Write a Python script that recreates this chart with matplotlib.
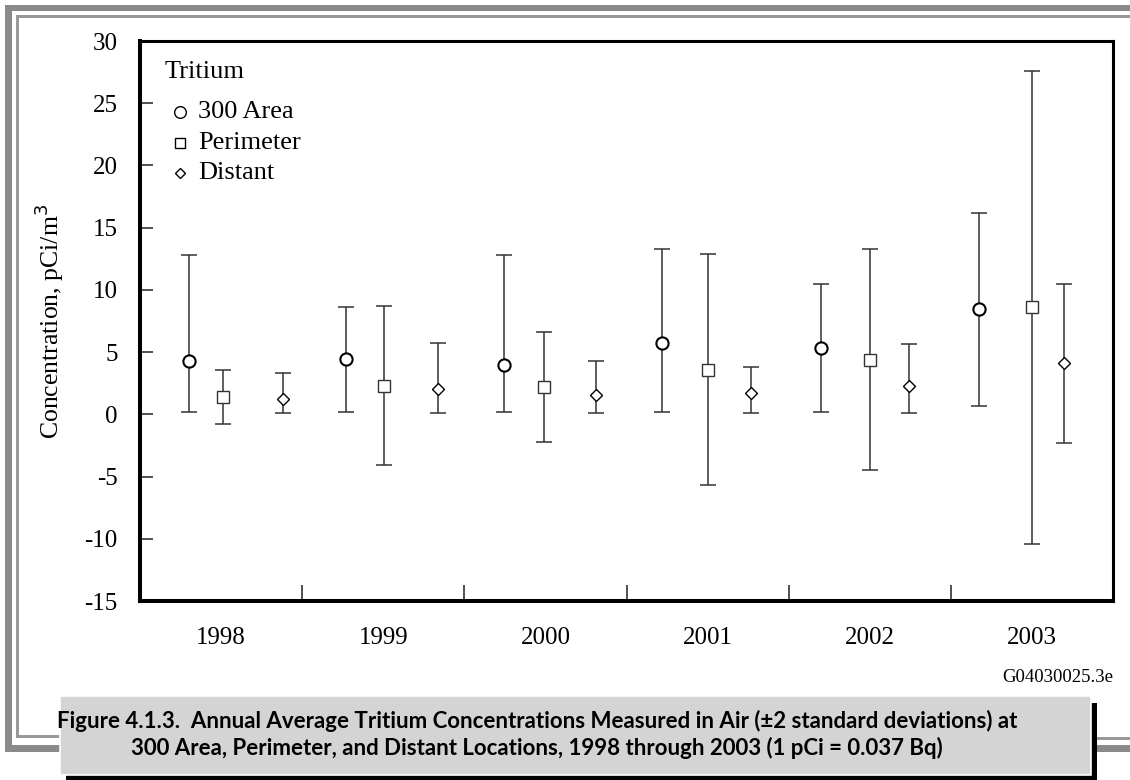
import numpy as np
import matplotlib
matplotlib.use("Agg")
import matplotlib.pyplot as plt
from matplotlib.patches import Rectangle

plt.rcParams['font.family'] = ['Liberation Serif', 'DejaVu Serif']
plt.rcParams['axes.unicode_minus'] = False

# data (pCi/m3)
years = ['1998', '1999', '2000', '2001', '2002', '2003']

area300_mean = [4.28, 4.41, 4.0, 5.7, 5.35, 8.43]
area300_low = [0.2, 0.2, 0.2, 0.18, 0.18, 0.66]
area300_high = [12.8, 8.64, 12.8, 13.28, 10.47, 16.2]

perim_mean = [1.41, 2.29, 2.2, 3.6, 4.38, 8.6]
perim_low = [-0.76, -4.08, -2.25, -5.66, -4.49, -10.43]
perim_high = [3.58, 8.72, 6.6, 12.88, 13.3, 27.6]

distant_mean = [1.25, 2.0, 1.52, 1.7, 2.29, 4.14]
distant_low = [0.12, 0.12, 0.1, 0.1, 0.1, -2.29]
distant_high = [3.34, 5.75, 4.28, 3.8, 5.67, 10.47]

legend_labels = ['300 Area', 'Perimeter', 'Distant']

# horizontal placement of each series inside its year slot
area300_off = [-0.20, -0.23, -0.255, -0.28, -0.30, -0.325]
perim_off = [0.01, 0.005, -0.01, 0.0, 0.0, 0.0]
distant_off = [0.38, 0.34, 0.31, 0.27, 0.24, 0.20]

W, H = 1130, 780
fig = plt.figure(figsize=(W / 100, H / 100), dpi=100)


def px(x0, y0, x1, y1):
    # pixel box (top-left origin) -> figure fraction rectangle
    return (x0 / W, 1 - y1 / H), (x1 - x0) / W, (y1 - y0) / H


ax = fig.add_axes([140 / W, 1 - 601 / H, 973 / W, 560 / H])

series = [
    (area300_mean, area300_low, area300_high, area300_off, 'o', 8.8, 1.5, 'black'),
    (perim_mean, perim_low, perim_high, perim_off, 's', 8.8, 1.0, '#333333'),
    (distant_mean, distant_low, distant_high, distant_off, 'D', 6.4, 1.0, 'black'),
]
pos = np.arange(len(years))
for mean, low, high, off, mk, ms, mew, ec in series:
    mean = np.array(mean)
    x = pos + np.array(off)
    yerr = [mean - np.array(low), np.array(high) - mean]
    ax.errorbar(x, mean, yerr=yerr, fmt='none', ecolor='#333333',
                elinewidth=1.1, capsize=6.1, capthick=1.1, zorder=2)
    ax.plot(x, mean, ls='none', marker=mk, ms=ms, mfc='white', mec=ec,
            mew=mew, zorder=3)

ax.set_xlim(-0.5, len(years) - 0.5)
ax.set_ylim(-15, 30)
ax.set_yticks(np.arange(-15, 31, 5))
ax.set_xticks(pos)
ax.set_xticklabels(years)
ax.set_xticks(pos[:-1] + 0.5, minor=True)
ax.tick_params(axis='x', which='major', length=0, pad=19, labelsize=18)
ax.tick_params(axis='x', which='minor', direction='in', length=11.5,
               width=1.1, color='#222222')
ax.tick_params(axis='y', direction='in', length=9.5, width=1.1,
               pad=16, labelsize=18, color='#222222')

for side in ['left', 'bottom']:
    ax.spines[side].set_linewidth(2.9)
for side in ['top', 'right']:
    ax.spines[side].set_linewidth(2.2)

ax.set_ylabel('Concentration, pCi/m$^3$', fontsize=18.5, labelpad=13)

# legend drawn by hand so the spacing matches the original
ax.text(0.0257, 0.9446, 'Tritium', transform=ax.transAxes, fontsize=19,
        ha='left', va='center')
leg_y = [0.8732, 0.8179, 0.7643]
leg_mk = [('o', 8.4), ('s', 7.8), ('D', 5.6)]
for lab, yy, (mk, ms) in zip(legend_labels, leg_y, leg_mk):
    ax.plot([0.0411], [yy], transform=ax.transAxes, ls='none', marker=mk,
            ms=ms, mfc='white', mec='black', mew=1.0, clip_on=False)
    ax.text(0.0596, yy, lab, transform=ax.transAxes, fontsize=19,
            ha='left', va='center')

fig.text(1113 / W, 1 - 677 / H, 'G04030025.3e', ha='right', va='center', fontsize=13.5)

# page frame in grey
frame = [
    (5, 5, W, 11, '#8a8a8a'), (17, 15, W, 18, '#9a9a9a'),
    (5, 5, 12, 752, '#8a8a8a'), (16, 15, 19, 738, '#9a9a9a'),
    (5, 745, 62, 752, '#8a8a8a'), (16, 735, 62, 738, '#9a9a9a'),
    (1095, 745, W, 752, '#8a8a8a'), (1095, 737, W, 740, '#9a9a9a'),
]
for x0, y0, x1, y1, c in frame:
    xy, w, h = px(x0, y0, x1, y1)
    fig.add_artist(Rectangle(xy, w, h, transform=fig.transFigure, color=c, lw=0))

# caption box with drop shadow
xy, w, h = px(66, 703, 1097, 780)
fig.add_artist(Rectangle(xy, w, h, transform=fig.transFigure, color='black', lw=0))
xy, w, h = px(60, 696, 1091, 775)
fig.add_artist(Rectangle(xy, w, h, transform=fig.transFigure, facecolor='#d4d4d4',
                         edgecolor='white', lw=1.2))

cap1 = 'Figure 4.1.3.  Annual Average Tritium Concentrations Measured in Air (\u00b12 standard deviations) at'
cap2 = '300 Area, Perimeter, and Distant Locations, 1998 through 2003 (1 pCi = 0.037 Bq)'
for txt, yy in [(cap1, 721), (cap2, 748)]:
    fig.text(537 / W, 1 - yy / H, txt, ha='center', va='center', fontsize=16,
             fontweight='bold', family=['Lato', 'DejaVu Sans'])

fig.savefig('out.png', dpi=100)
